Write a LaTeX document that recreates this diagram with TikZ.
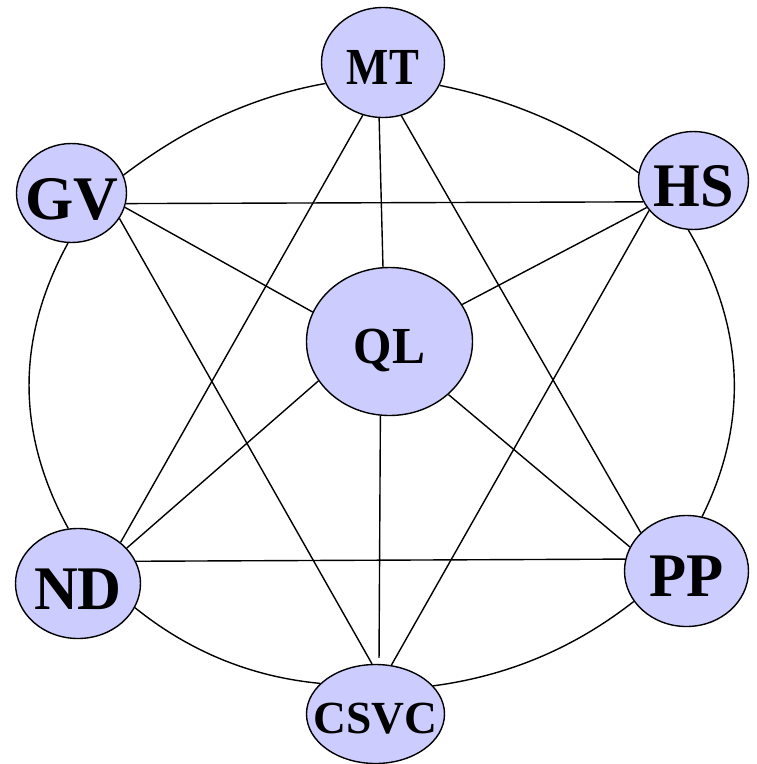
\documentclass[tikz,border=0pt]{standalone}
\usepackage{fontspec}
\usepackage{graphicx}
\setmainfont{Liberation Serif}
\usetikzlibrary{shapes.geometric}
\definecolor{nodefill}{HTML}{CCCCFF}
\newcommand{\nlbl}[4]{\smash{\raisebox{-#1pt}{\makebox[0pt]{\scalebox{#4}[1]{\fontsize{#2}{#2}\selectfont\bfseries #3}}}}}
\tikzset{
  nd/.style={ellipse, draw=black, fill=nodefill, line width=1.4pt, inner sep=0pt},
  edge/.style={draw=black, line width=1.4pt}
}
\begin{document}
\begin{tikzpicture}[x=1pt, y=-1pt]
\useasboundingbox (0,0) rectangle (757,764);
% nodes
\node[nd, minimum width=123pt, minimum height=110pt] (MT) at (383,62.5) {\nlbl{21.8}{52}{MT}{0.86}};
\node[nd, minimum width=110pt, minimum height=99pt] (GV) at (71.5,193) {\nlbl{26.5}{62}{GV}{1}};
\node[nd, minimum width=110pt, minimum height=98pt] (HS) at (693.5,180.5) {\nlbl{25.5}{62}{HS}{0.97}};
\node[nd, minimum width=166pt, minimum height=148pt] (QL) at (389.5,341.5) {\nlbl{21.8}{52}{QL}{0.95}};
\node[nd, minimum width=125pt, minimum height=110pt] (ND) at (78,583.5) {\nlbl{26}{62}{ND}{0.98}};
\node[nd, minimum width=124pt, minimum height=111pt] (PP) at (686.5,571) {\nlbl{25.7}{62}{PP}{0.98}};
\node[nd, minimum width=138pt, minimum height=99pt] (CSVC) at (375.5,714) {\nlbl{19.3}{46}{CSVC}{0.99}};
% straight connectors
\draw[edge] (GV.349.8) -- (HS.203.6);
\draw[edge] (ND.21.7) -- (PP.169.9);
\draw[edge] (MT.266.9) -- (QL.95.7);
\draw[edge, shorten >=6pt] (QL.263.5) -- (CSVC.86);
\draw[edge] (GV.345.3) -- (QL.159.2);
\draw[edge] (GV.332.2) -- (CSVC.94);
\draw[edge] (MT.249.8) -- (ND.44.7);
\draw[edge] (QL.209.2) -- (ND.36.7);
\draw[edge] (MT.289.9) -- (PP.140.6);
\draw[edge] (HS.210.8) -- (QL.27);
\draw[edge] (HS.214.9) -- (CSVC.72);
\draw[edge] (QL.318) -- (PP.157);
% outer ring connectors
\draw[edge] (MT.200.9) .. controls (255,96) and (188,126) .. (GV.19.3);
\draw[edge] (MT.338.5) .. controls (513,100) and (579,129) .. (HS.172.3);
\draw[edge] (GV.266) .. controls (16,338) and (16,433) .. (ND.100.2);
\draw[edge] (HS.264.8) .. controls (745,326) and (749,422) .. (PP.74.3);
\draw[edge] (ND.337.6) .. controls (190,652) and (252,677) .. (CSVC.151.6);
\draw[edge] (PP.210.1) .. controls (573,649) and (507,676) .. (CSVC.26);
\end{tikzpicture}
\end{document}
